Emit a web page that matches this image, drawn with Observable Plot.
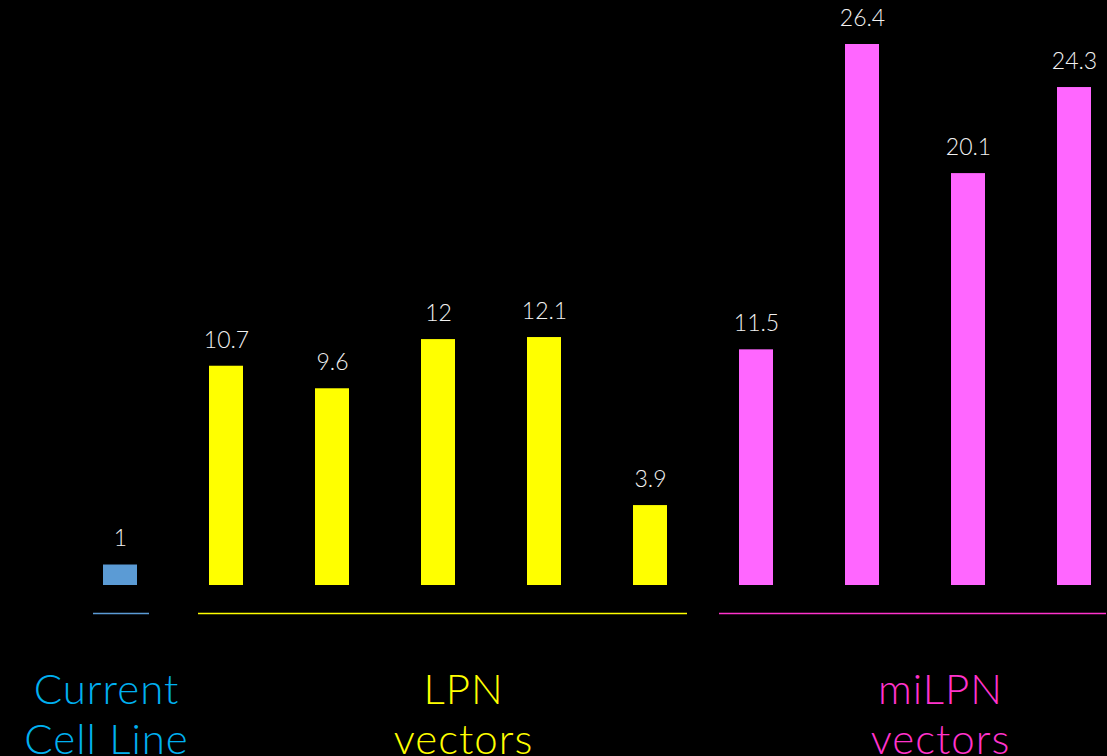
<!DOCTYPE html>
<html>
<head>
<meta charset="utf-8">
<script src="https://cdn.jsdelivr.net/npm/d3@7"></script>
<script src="https://cdn.jsdelivr.net/npm/@observablehq/plot@0.6"></script>
<style>
  html, body { margin: 0; padding: 0; background: #000; }
  #chart svg { display: block; }
  #chart .caption text { letter-spacing: 1px; }
</style>
</head>
<body>
<div id="chart"></div>
<script>
// Expression relative to the current cell line
const categories = ["Cell line", "LPN 1", "LPN 2", "LPN 3", "LPN 4", "LPN 5",
                    "miLPN 1", "miLPN 2", "miLPN 3", "miLPN 4"];
const values = [1, 10.7, 9.6, 12, 12.1, 3.9, 11.5, 26.4, 20.1, 24.3];
const groupOf = ["current", "lpn", "lpn", "lpn", "lpn", "lpn",
                 "milpn", "milpn", "milpn", "milpn"];

const groupKeys = ["current", "lpn", "milpn"];
const groupLabels = ["Current\nCell Line", "LPN\nvectors", "miLPN\nvectors"];
const barColors = ["#5b9bd5", "#ffff00", "#ff66ff"];
const lineColors = ["#5b9bd5", "#ffff00", "#ff33cc"];
const labelColors = ["#00b0f0", "#ffff00", "#ff33cc"];

const bars = categories.map((c, i) => ({category: c, value: values[i], group: groupOf[i]}));

// one bracket line + caption per group
const groups = groupKeys.map((g, k) => {
  const members = bars.filter(d => d.group === g).map(d => d.category);
  return {key: g, label: groupLabels[k], first: members[0], last: members[members.length - 1],
          line: lineColors[k], color: labelColors[k]};
});

// bracket extension and caption offset per group (px)
const bracketStyle = [
  {insetLeft: -10, insetRight: -12, dx: -14, anchor: 0},
  {insetLeft: -11, insetRight: -20, dx: 25, anchor: 3},
  {insetLeft: -20, insetRight: -15, dx: -28, anchor: 8}
];

const font = "Lato, 'Open Sans', sans-serif";

const marks = [
  Plot.barY(bars, {x: "category", y: "value", fill: "group"}),
  Plot.text(bars, {
    x: "category", y: "value", text: d => String(d.value), dy: -26,
    fill: "#f2f2f2", fontSize: 23, fontWeight: 300, fontFamily: font
  })
];

groups.forEach((g, k) => {
  const s = bracketStyle[k];
  marks.push(Plot.ruleY([0], {
    x1: () => g.first, x2: () => g.last, dy: 28,
    stroke: g.line, strokeWidth: 1.5,
    insetLeft: s.insetLeft, insetRight: s.insetRight
  }));
  marks.push(Plot.text([g], {
    x: () => categories[s.anchor], text: "label", dx: s.dx,
    frameAnchor: "bottom", lineAnchor: "top", dy: 83, lineHeight: 1.19,
    fill: g.color, fontSize: 42, fontWeight: 300, fontFamily: font,
    className: "caption"
  }));
});

const chart = Plot.plot({
  width: 1107,
  height: 756,
  marginLeft: 102,
  marginRight: 15,
  marginTop: 44,
  marginBottom: 171,
  style: {background: "#000", overflow: "visible"},
  x: {domain: categories, paddingInner: 0.68, paddingOuter: 0, axis: null},
  y: {domain: [0, 26.4], axis: null},
  color: {domain: groupKeys, range: barColors},
  marks
});

document.getElementById("chart").appendChild(chart);
</script>
</body>
</html>
